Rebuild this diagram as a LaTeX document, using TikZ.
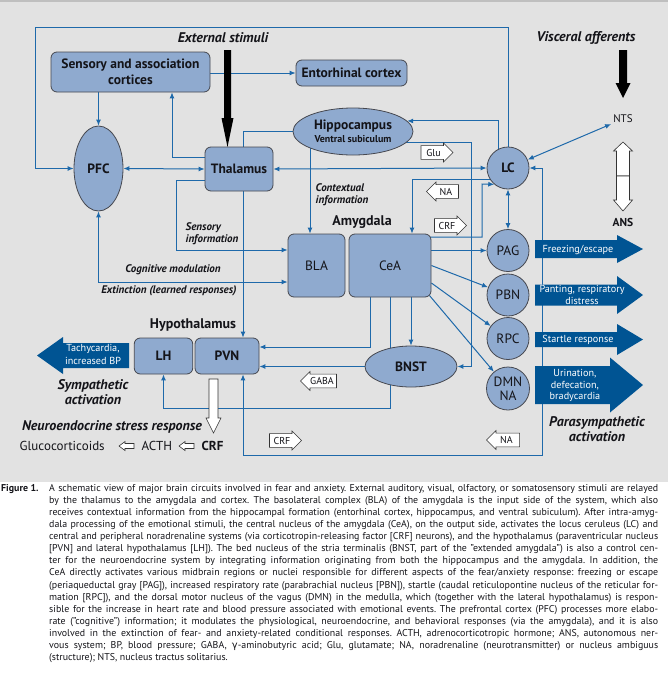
\documentclass[tikz,border=0pt]{standalone}
\usepackage{fontspec}
\setmainfont{PT Sans}
\newfontfamily\greekf{DejaVu Sans}
\usetikzlibrary{arrows.meta,shapes.geometric,shapes.arrows,backgrounds}
\definecolor{bgc}{RGB}{226,226,226}
\definecolor{boxfill}{RGB}{143,170,207}
\definecolor{boxline}{RGB}{70,72,80}
\definecolor{linec}{RGB}{30,105,170}
\definecolor{darkb}{RGB}{0,84,147}
\definecolor{txt}{RGB}{20,20,25}
\frenchspacing
\begin{document}
\begin{tikzpicture}[x=1pt,y=-1pt,
  every node/.style={text=txt},
  box/.style={draw=boxline, fill=boxfill, rounded corners=6pt, line width=0.8pt, align=center, inner sep=0pt, font=\bfseries\fontsize{13.5}{16}\selectfont},
  boxr/.style={box, font=\fontsize{13.5}{16}\selectfont},
  ell/.style={ellipse, draw=boxline, fill=boxfill, line width=0.8pt, inner sep=0pt, align=center, font=\bfseries\fontsize{13.5}{14}\selectfont},
  circ/.style={circle, draw=boxline, fill=boxfill, line width=0.8pt, minimum size=42pt, inner sep=0pt, align=center, font=\fontsize{13.5}{14}\selectfont},
  con/.style={draw=linec, line width=1pt},
  arr/.style={con, -{Latex[length=6pt,width=5pt]}},
  darr/.style={con, {Latex[length=6pt,width=5pt]}-{Latex[length=6pt,width=5pt]}},
  ann/.style={font=\bfseries\itshape\fontsize{11}{12}\selectfont, align=left, inner sep=0pt},
  head/.style={font=\bfseries\itshape\fontsize{14}{15}\selectfont, align=center, inner sep=0pt},
  sect/.style={font=\bfseries\fontsize{14}{15}\selectfont, inner sep=0pt},
  wtxt/.style={text=white, font=\fontsize{10.2}{12}\selectfont, align=center, inner sep=0pt},
  warrow/.style={single arrow, draw=black!80, fill=white, line width=0.6pt, inner xsep=2pt, inner ysep=3pt, minimum height=32pt, single arrow head extend=2.5pt, font=\fontsize{10}{10}\selectfont},
  warrowl/.style={warrow, shape border rotate=180},
  capl/.style={anchor=base west, inner sep=0pt, font=\fontsize{9.9}{10}\selectfont}
]
\useasboundingbox (0,0) rectangle (668,683);

% nodes
\node[box, minimum width=159pt, minimum height=40pt] (sens) at (130.5,72) {Sensory and association\\cortices};
\node[box, minimum width=111pt, minimum height=26pt] (ent) at (351.5,73) {Entorhinal cortex};
\node[box, minimum width=68pt, minimum height=44pt] (thal) at (239,169) {Thalamus};
\node[ell, minimum width=49pt, minimum height=85pt] (pfc) at (98.5,168.5) {PFC};
\node[ell, minimum width=120pt, minimum height=47pt, font=\bfseries\fontsize{13.5}{13}\selectfont] (hip) at (353,131.5) {Hippocampus\\{\fontsize{10}{10}\selectfont Ventral subiculum}};
\node[circ, font=\bfseries\fontsize{13.5}{14}\selectfont] (lc) at (508,168) {LC};
\node[circ] (pag) at (508,250.5) {PAG};
\node[circ] (pbn) at (508,295) {PBN};
\node[circ] (rpc) at (508,338.5) {RPC};
\node[circ, minimum size=43pt, font=\fontsize{13.5}{14}\selectfont] (dmn) at (508,388.5) {DMN\\NA};
\node[boxr, minimum width=57pt, minimum height=63pt] (bla) at (316.5,265.5) {BLA};
\node[boxr, minimum width=82pt, minimum height=63pt] (cea) at (390,265.5) {CeA};
\node[box, minimum width=58.5pt, minimum height=36pt] (lh) at (163.5,356) {LH};
\node[box, minimum width=64pt, minimum height=36pt] (pvn) at (227,356) {PVN};
\node[ell, minimum width=92pt, minimum height=41pt] (bnst) at (411,366.5) {BNST};
\node[inner sep=2pt, font=\fontsize{11}{12}\selectfont] (nts) at (623,119) {NTS};
\node[inner sep=2pt, font=\bfseries\fontsize{11.5}{12}\selectfont] (ans) at (623,222) {ANS};

\coordinate (topc) at (35,27);
\coordinate (loopc) at (542,455);
\coordinate (crfc) at (482,184);
\coordinate (blatop) at ([xshift=-6.5pt]bla.north);

\begin{scope}[on background layer]
\fill[bgc] (0,0) rectangle (668,482);
\draw[black!25, line width=1.5pt] (0,0.75) -- (668,0.75);
\draw[arr] (lc.north) |- (topc) |- (pfc.west);
\draw[arr] (sens.south -| pfc.north) -- (pfc.north);
\draw[arr] (sens.east |- ent.west) -- (ent.west);
\draw[arr] ([yshift=12pt]thal.west) -| ([xshift=41.5pt]sens.south);
\draw[darr] (pfc.east) -- (thal.west);
\draw[darr] (thal.east) -- (lc.west);
\draw[con] ([xshift=4pt]thal.center) |- (hip.center);
\draw[arr] ([xshift=4pt]thal.center) -- ([xshift=16pt]pvn.north);
\draw[arr] ([yshift=-11pt]thal.west) -| ([xshift=-111pt,yshift=15.5pt]bla.west) -- ([yshift=15.5pt]bla.west);
\draw[darr] (pfc.south) |- ([yshift=-16.5pt]bla.west);
\draw[arr] (blatop |- hip.center) -- (blatop);
\draw[arr] ([xshift=-10pt]lc.center) |- (hip.11);
\draw[arr] ([yshift=-10.5pt]hip.center) -| ([xshift=14pt]bnst.east) -- (bnst.east);
\draw[arr] ([yshift=-11pt]lc.center) -| ([xshift=22pt]cea.north);
\draw[arr] ([yshift=28.5pt]cea.center) -| (crfc) -- (lc.230);
\draw[darr] ([xshift=16pt]pvn.south) |- (loopc) |- (lc.east);
\draw[darr] (lc.south) -- (pag.north);
\draw[darr] (lc) -- (nts);
\draw[arr] (cea.east |- pag.west) -- (pag.west);
\draw[arr] (cea.east) -- (pbn);
\draw[arr] ([yshift=-17.5pt]cea.east) -- (rpc);
\draw[arr] ([shift={(-2pt,2pt)}]cea.south east) -- (dmn);
\draw[arr] ([xshift=-20pt]cea.south) |- ([yshift=9pt]pvn.east);
\draw[arr] (cea.center) -- ++(0,142.5) -| (lh.south);
\draw[arr] (cea.south -| bnst.north) -- (bnst.north);
\draw[arr] (bnst.west) -- (bnst.west -| pvn.east);
\end{scope}

% black input arrows
\fill[black] (224,50) -- (231,50) -- (231,118) -- (233.5,118) -- (227.5,147) -- (221.5,118) -- (224,118) -- cycle;
\fill[black] (619,50) -- (627,50) -- (627,83) -- (630.5,83) -- (623,98) -- (615.5,83) -- (619,83) -- cycle;
\node[head] (ext) at (223,38) {External stimuli};
\node[head] (visc) at (586,38) {Visceral afferents};

% white double arrow NTS / ANS
\draw[black!80, fill=white, line width=0.6pt] (623,142) -- (632.5,151) -- (629.5,151) -- (629.5,176) -- (616.5,176) -- (616.5,151) -- (613.5,151) -- cycle;
\draw[black!80, fill=white, line width=0.6pt] (616.5,176) -- (629.5,176) -- (629.5,200) -- (632.5,200) -- (623,211) -- (613.5,200) -- (616.5,200) -- cycle;

% PVN down white arrow
\draw[black!80, fill=white, line width=0.6pt] (209,379) -- (218,379) -- (218,418) -- (221,418) -- (213.5,433) -- (206,418) -- (209,418) -- cycle;

% dark output arrows
\fill[darkb] (535,240) -- (617,240) -- (617,235) -- (643,249) -- (617,263) -- (617,258) -- (535,258) -- cycle;
\node[wtxt] (frz) at (578,249.5) {Freezing/escape};
\fill[darkb] (535,284.5) -- (617,284.5) -- (617,276) -- (643,295) -- (617,314) -- (617,305.5) -- (535,305.5) -- cycle;
\node[wtxt] (pant) at (582,295) {Panting, respiratory\\distress};
\fill[darkb] (535,332) -- (617,332) -- (617,324) -- (643,339.5) -- (617,355) -- (617,347) -- (535,347) -- cycle;
\node[wtxt] (star) at (578,339.5) {Startle response};
\fill[darkb] (535,366) -- (610,366) -- (610,357.5) -- (643,385) -- (610,412.5) -- (610,404) -- (535,404) -- cycle;
\node[wtxt, font=\fontsize{10.2}{11.5}\selectfont] (urin) at (575,385.5) {Urination,\\defecation,\\bradycardia};
\fill[darkb] (129,343) -- (63,343) -- (63,337) -- (37,355.5) -- (63,374) -- (63,368) -- (129,368) -- cycle;
\node[wtxt, font=\fontsize{10.2}{13}\selectfont] (tach) at (93,354.5) {Tachycardia,\\increased BP};

% white transmitter arrows
\node[warrow] (glu) at (433.5,152.5) {Glu};
\node[warrowl] (na1) at (446,191.5) {NA};
\node[warrow] (crf1) at (447,225.5) {CRF};
\node[warrowl, minimum height=36pt] (gaba) at (322,381) {GABA};
\node[warrow] (crf2) at (282,440.5) {CRF};
\node[warrowl, minimum height=33pt] (na2) at (506.5,440) {NA};

% annotations
\node[ann, anchor=west] (ctx) at (315.5,195) {Contextual\\information};
\node[ann, anchor=west] (sinf) at (185.5,234) {Sensory\\information};
\node[ann] (cogm) at (173,270) {Cognitive modulation};
\node[ann] (extn) at (169,291) {Extinction (learned responses)};
\node[sect] (amyg) at (362,222) {Amygdala};
\node[sect] (hypo) at (193,325) {Hypothalamus};
\node[head] (symp) at (93,392) {Sympathetic\\activation};
\node[head] (para) at (597,429.5) {Parasympathetic\\activation};
\node[head] (neuro) at (112,427) {Neuroendocrine stress response};

% hormone cascade
\node[anchor=base west, inner sep=0pt, font=\fontsize{13}{14}\selectfont] (gluc) at (19.5,450.5) {Glucocorticoids};
\draw[black!80, fill=white, line width=0.6pt] (119,446) -- (125,441.5) -- (125,443.5) -- (134,443.5) -- (134,448.5) -- (125,448.5) -- (125,450.5) -- cycle;
\node[anchor=base west, inner sep=0pt, font=\fontsize{13}{14}\selectfont] (acth) at (141.5,450.5) {ACTH};
\draw[black!80, fill=white, line width=0.6pt] (179,446) -- (185,441.5) -- (185,443.5) -- (194,443.5) -- (194,448.5) -- (185,448.5) -- (185,450.5) -- cycle;
\node[anchor=base west, inner sep=0pt, font=\bfseries\fontsize{13}{14}\selectfont] (crf3) at (201.5,450.5) {CRF};

% caption
\node[capl, font=\bfseries\fontsize{9.9}{10}\selectfont] (fig) at (1,491) {Figure 1.};
\node[capl] (c1) at (49,491) {\makebox[609pt][s]{A schematic view of major brain circuits involved in fear and anxiety. External auditory, visual, olfactory, or somatosensory stimuli are relayed}};
\node[capl] (c2) at (49,503.14) {\makebox[609pt][s]{by the thalamus to the amygdala and cortex. The basolateral complex (BLA) of the amygdala is the input side of the system, which also}};
\node[capl] (c3) at (49,515.28) {\makebox[609pt][s]{receives contextual information from the hippocampal formation (entorhinal cortex, hippocampus, and ventral subiculum). After intra-amyg-}};
\node[capl] (c4) at (49,527.42) {\makebox[609pt][s]{dala processing of the emotional stimuli, the central nucleus of the amygdala (CeA), on the output side, activates the locus ceruleus (LC) and}};
\node[capl] (c5) at (49,539.56) {\makebox[609pt][s]{central and peripheral noradrenaline systems (via corticotropin-releasing factor [CRF] neurons), and the hypothalamus (paraventricular nucleus}};
\node[capl] (c6) at (49,551.7) {\makebox[609pt][s]{[PVN] and lateral hypothalamus [LH]). The bed nucleus of the stria terminalis (BNST, part of the "extended amygdala") is also a control cen-}};
\node[capl] (c7) at (49,563.84) {\makebox[609pt][s]{ter for the neuroendocrine system by integrating information originating from both the hippocampus and the amygdala. In addition, the}};
\node[capl] (c8) at (49,575.98) {\makebox[609pt][s]{CeA directly activates various midbrain regions or nuclei responsible for different aspects of the fear/anxiety response: freezing or escape}};
\node[capl] (c9) at (49,588.12) {\makebox[609pt][s]{(periaqueductal gray [PAG]), increased respiratory rate (parabrachial nucleus [PBN]), startle (caudal reticulopontine nucleus of the reticular for-}};
\node[capl] (c10) at (49,600.26) {\makebox[609pt][s]{mation [RPC]), and the dorsal motor nucleus of the vagus (DMN) in the medulla, which (together with the lateral hypothalamus) is respon-}};
\node[capl] (c11) at (49,612.4) {\makebox[609pt][s]{sible for the increase in heart rate and blood pressure associated with emotional events. The prefrontal cortex (PFC) processes more elabo-}};
\node[capl] (c12) at (49,624.54) {\makebox[609pt][s]{rate ("cognitive") information; it modulates the physiological, neuroendocrine, and behavioral responses (via the amygdala), and it is also}};
\node[capl] (c13) at (49,636.68) {\makebox[609pt][s]{involved in the extinction of fear- and anxiety-related conditional responses. ACTH, adrenocorticotropic hormone; ANS, autonomous ner-}};
\node[capl] (c14) at (49,648.82) {\makebox[609pt][s]{vous system; BP, blood pressure; GABA, {\greekf γ}-aminobutyric acid; Glu, glutamate; NA, noradrenaline (neurotransmitter) or nucleus ambiguus}};
\node[capl] (c15) at (49,660.96) {(structure); NTS, nucleus tractus solitarius.};
\end{tikzpicture}
\end{document}
